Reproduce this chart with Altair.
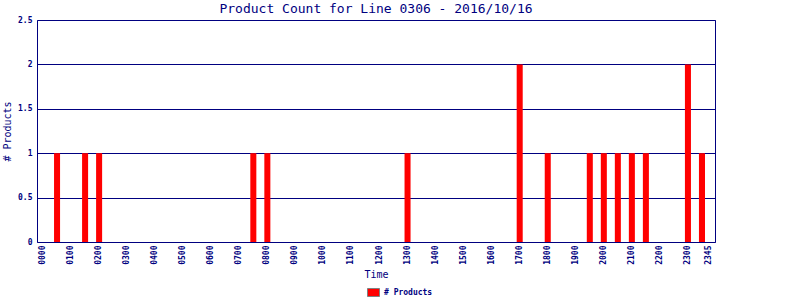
import altair as alt
import pandas as pd

# Data: quarter-hour slots with products
times = ["0030", "0130", "0200", "0730", "0800", "1300", "1700", "1800",
         "1930", "2000", "2030", "2100", "2130", "2300", "2330"]
counts = [1, 1, 1, 1, 1, 1, 2, 1, 1, 1, 1, 1, 1, 2, 1]

# full list of quarter-hour categories (axis domain)
slots = [f"{h:02d}{m:02d}" for h in range(24) for m in (0, 15, 30, 45)]
y_ticks = [0, 0.5, 1, 1.5, 2, 2.5]
series_name = "# Products"
title_text = "Product Count for Line 0306 - 2016/10/16"

df = pd.DataFrame({"Time": times, "Count": counts, "Series": series_name})

NAVY = "#000080"
MONO = "DejaVu Sans Mono"

chart = alt.Chart(df).mark_bar(color="red").encode(
    x=alt.X("Time:N", scale=alt.Scale(domain=slots, paddingInner=0.14, paddingOuter=0.43),
            sort=slots,
            axis=alt.Axis(title="Time", labelAngle=-90, ticks=False, domain=False,
                          labelExpr="(substring(datum.value, 2) == '00' || datum.value == '2345') ? datum.value : ''",
                          labelFont=MONO, labelFontSize=8, labelFontWeight="bold", labelColor=NAVY,
                          labelPadding=3, labelOverlap=False,
                          titleFont=MONO, titleFontSize=10, titleFontWeight="normal", titleColor=NAVY,
                          titlePadding=5)),
    y=alt.Y("Count:Q", scale=alt.Scale(domain=[0, 2.5], nice=False),
            axis=alt.Axis(title=series_name, values=y_ticks, ticks=False, domain=False,
                          labelExpr="'' + datum.value",
                          labelFont=MONO, labelFontSize=8, labelFontWeight="bold", labelColor=NAVY,
                          labelPadding=5,
                          grid=True, gridColor=NAVY, gridOpacity=1, gridWidth=1,
                          titleFont=MONO, titleFontSize=10, titleFontWeight="normal", titleColor=NAVY,
                          titlePadding=5)),
    color=alt.Color("Series:N", scale=alt.Scale(range=["red"]),
                    legend=alt.Legend(title=None, orient="none", legendX=330, legendY=266,
                                      symbolType="M-1,-0.667L1,-0.667L1,0.667L-1,0.667Z",
                                      symbolSize=144, symbolStrokeColor="gray", symbolStrokeWidth=1,
                                      symbolFillColor="red",
                                      labelFont=MONO, labelFontSize=8, labelFontWeight="bold",
                                      labelColor=NAVY, padding=0, labelOffset=4)),
).properties(
    width=678, height=222,
    title=alt.TitleParams(title_text, font=MONO, fontSize=13, fontWeight="normal",
                          color=NAVY, anchor="middle", offset=0, baseline="alphabetic", dy=10),
    autosize=alt.AutoSizeParams(type="none"),
    padding={"left": 37, "top": 20, "right": 85, "bottom": 58},
    background="white",
).configure_view(stroke=NAVY, strokeWidth=1)

chart.save("out.html", embed_options={"renderer": "svg", "actions": False})
